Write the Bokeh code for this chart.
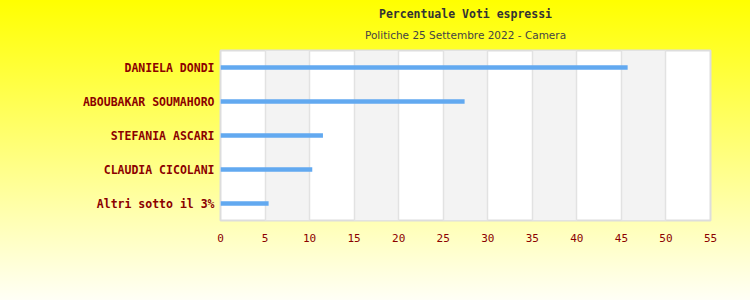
from bokeh.plotting import figure
from bokeh.models import FactorRange, Range1d, Title, FixedTicker
from bokeh.embed import file_html
from bokeh.resources import INLINE

candidates = ["DANIELA DONDI", "ABOUBAKAR SOUMAHORO", "STEFANIA ASCARI",
              "CLAUDIA CICOLANI", "Altri sotto il 3%"]
percent = [45.7, 27.4, 11.5, 10.3, 5.4]
x_ticks = [0, 5, 10, 15, 20, 25, 30, 35, 40, 45, 50, 55]
title_text = "Percentuale Voti espressi"
subtitle_text = "Politiche 25 Settembre 2022 - Camera"

p = figure(width=750, height=300, output_backend="svg", toolbar_location=None,
           y_range=FactorRange(*list(reversed(candidates)), range_padding=0),
           x_range=Range1d(0, 55),
           min_border_left=220, min_border_right=40, min_border_top=50,
           min_border_bottom=80)
p.styles = {"background": "linear-gradient(to bottom, #ffff00 0%, #ffff7a 50%, #fffff6 100%)"}
p.border_fill_alpha = 0
p.background_fill_color = "white"
p.outline_line_color = "#dddddd"
p.outline_line_width = 2

p.hbar(y=candidates, right=percent, left=0, height=0.13,
       fill_color="#62a9f0", line_color=None)

p.xaxis.ticker = FixedTicker(ticks=x_ticks)
p.xaxis.axis_line_color = None
p.xaxis.major_tick_line_color = None
p.xaxis.minor_tick_line_color = None
p.xaxis.major_label_standoff = 7
p.xaxis.major_label_text_font = "DejaVu Sans Mono"
p.xaxis.major_label_text_font_size = "11px"
p.xaxis.major_label_text_color = "#8b0000"

p.yaxis.axis_line_color = None
p.yaxis.major_tick_line_color = None
p.yaxis.major_label_standoff = 0
p.yaxis.major_label_text_font = "DejaVu Sans Mono"
p.yaxis.major_label_text_font_style = "bold"
p.yaxis.major_label_text_font_size = "11.5px"
p.yaxis.major_label_text_color = "#8b0000"

p.ygrid.grid_line_color = None
p.xgrid.grid_line_color = "#e2e2e2"
p.xgrid.grid_line_width = 1.5
p.xgrid.band_fill_color = "#f3f3f3"
p.xgrid.band_fill_alpha = 1

p.title.visible = False
p.add_layout(Title(text=subtitle_text, align="center", text_font="DejaVu Sans",
                   text_font_size="10.5px", text_font_style="normal",
                   text_color="#444444", standoff=16, vertical_align="top"),
             "above")
p.add_layout(Title(text=title_text, align="center", text_font="DejaVu Sans Mono",
                   text_font_size="11.5px", text_font_style="bold",
                   text_color="#333333", standoff=0), "above")

open("out.html", "w").write(file_html(p, INLINE))
